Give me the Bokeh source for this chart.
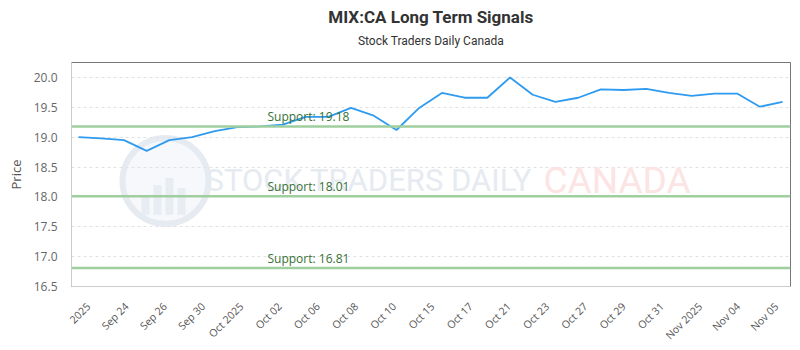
import math
import numpy as np
from bokeh.plotting import figure
from bokeh.models import (Range1d, FixedTicker, LinearAxis, Span, Label, Title, Grid,
                          PrintfTickFormatter, CustomJSTickFormatter)
from bokeh.embed import file_html
from bokeh.resources import INLINE

# ---------------- data ----------------
dates = ["Sep 22", "Sep 23", "Sep 24", "Sep 25", "Sep 26", "Sep 29", "Sep 30",
         "Oct 01", "Oct 02", "Oct 03", "Oct 06", "Oct 07", "Oct 08", "Oct 09", "Oct 10",
         "Oct 14", "Oct 15", "Oct 16", "Oct 17", "Oct 20", "Oct 21", "Oct 22", "Oct 23",
         "Oct 24", "Oct 27", "Oct 28", "Oct 29", "Oct 30", "Oct 31", "Nov 03", "Nov 04", "Nov 05"]
prices = [19.00, 18.98, 18.95, 18.77, 18.95, 19.00, 19.10, 19.17, 19.18, 19.21,
          19.34, 19.34, 19.49, 19.36, 19.12, 19.49, 19.74, 19.66, 19.66, 20.00,
          19.71, 19.59, 19.66, 19.80, 19.79, 19.81, 19.74, 19.69, 19.73, 19.73,
          19.51, 19.59]
support_levels = [19.18, 18.01, 16.81]
support_labels = ["Support: 19.18", "Support: 18.01", "Support: 16.81"]
x_tick_labels = ["2025", "Sep 24", "Sep 26", "Sep 30", "Oct 2025", "Oct 02", "Oct 06",
                 "Oct 08", "Oct 10", "Oct 15", "Oct 17", "Oct 21", "Oct 23", "Oct 27",
                 "Oct 29", "Oct 31", "Nov 2025", "Nov 04", "Nov 05"]
y_ticks = [16.5, 17.0, 17.5, 18.0, 18.5, 19.0, 19.5, 20.0]
title_text = "MIX:CA Long Term Signals"
subtitle_text = "Stock Traders Daily Canada"

# ---------------- layout constants ----------------
W, H = 800, 350
FL, FR, FT, FB = 71, 790, 62, 287          # frame edges in px
idx = list(range(len(prices)))
x0, x1 = -0.31, len(prices) - 1 + 0.35
y0, y1 = 16.5, 20.25

def fx(px):
    return x0 + (px - FL) / (FR - FL) * (x1 - x0)

def fy(py):
    return y1 - (py - FT) / (FB - FT) * (y1 - y0)

p = figure(width=W, height=H, x_range=Range1d(x0, x1), y_range=Range1d(y0, y1),
           output_backend="svg", toolbar_location=None,
           x_axis_type=None, y_axis_type=None,
           min_border_left=FL, min_border_right=W - FR,
           min_border_top=FT, min_border_bottom=H - FB)
p.background_fill_color = "white"
p.border_fill_color = "white"
p.outline_line_color = "#777777"
p.outline_line_width = 1

# titles
p.add_layout(Title(text=subtitle_text, align="center",
                   text_font="Roboto", text_font_size="12px",
                   text_font_style="normal", text_color="#333333", standoff=30), "above")
p.add_layout(Title(text=title_text, align="center",
                   text_font="Roboto", text_font_size="17px",
                   text_font_style="bold", text_color="#333333", standoff=-21), "above")

# axes: spacer + real
sp_y = LinearAxis(ticker=FixedTicker(ticks=[]), axis_line_color=None,
                  major_tick_out=10, major_tick_in=0, minor_tick_out=0, minor_tick_in=0,
                  major_label_standoff=0, major_tick_line_color=None)
p.add_layout(sp_y, "left")
yax = LinearAxis(ticker=FixedTicker(ticks=y_ticks), formatter=PrintfTickFormatter(format="%.1f"),
                 axis_label="Price", axis_label_text_font="Open Sans",
                 axis_label_text_font_size="13px", axis_label_text_font_style="normal",
                 axis_label_text_color="#555555", axis_label_standoff=6,
                 major_label_text_font="Open Sans", major_label_text_font_size="12px",
                 major_label_text_color="#666666", major_label_standoff=8,
                 axis_line_color="#cccccc", major_tick_line_color=None, minor_tick_line_color=None)
p.add_layout(yax, "left")

sp_x = LinearAxis(ticker=FixedTicker(ticks=[]), axis_line_color=None,
                  major_tick_out=9, major_tick_in=0, minor_tick_out=0, minor_tick_in=0,
                  major_label_standoff=0, major_tick_line_color=None)
p.add_layout(sp_x, "below")
t_first, t_last = fx(88), fx(776)
n_lab = len(x_tick_labels)
tick_pos = list(np.linspace(t_first, t_last, n_lab))
step = (t_last - t_first) / (n_lab - 1)
xax = LinearAxis(ticker=FixedTicker(ticks=tick_pos),
                 formatter=CustomJSTickFormatter(args=dict(labels=x_tick_labels, start=t_first, step=step),
                                                 code="const i = Math.round((tick - start) / step); return labels[i] || '';"),
                 major_label_orientation=math.pi / 4,
                 major_label_text_font="Open Sans", major_label_text_font_size="10.5px",
                 major_label_text_color="#555555", major_label_standoff=12,
                 axis_line_color="#cccccc", major_tick_line_color=None, minor_tick_line_color=None)
p.add_layout(xax, "below")

p.add_layout(Grid(dimension=1, ticker=FixedTicker(ticks=y_ticks), grid_line_color="#e2e2e2",
                  grid_line_dash="3 3", grid_line_width=1))

# watermark
cx, cy = fx(165), fy(181)
p.circle(x=[cx], y=[cy], radius=43, radius_units="screen", fill_color="#f7f8fb",
         fill_alpha=1, line_color="#e6ebf2", line_width=6, level="underlay")
bar_px = [145, 157, 169, 181]
bar_top = [195, 185, 178, 188]
for bx, bt in zip(bar_px, bar_top):
    p.quad(left=[fx(bx - 4)], right=[fx(bx + 4)], top=[fy(bt)], bottom=[fy(215)],
           fill_color="#e8ecf3", line_color=None, level="underlay")
p.add_layout(Label(x=fx(205), y=fy(181), text="STOCK TRADERS DAILY", text_font="Roboto",
                   text_font_size="31px", text_color="#e6eaf1", text_baseline="middle",
                   text_align="left", level="underlay"))
p.add_layout(Label(x=fx(543), y=fy(181), text="CANADA", text_font="Roboto",
                   text_font_size="37px", text_color="#fde4e4", text_baseline="middle",
                   text_align="left", level="underlay"))

# support lines
for lvl, lab in zip(support_levels, support_labels):
    p.add_layout(Span(location=lvl, dimension="width", line_color="#9fce9f", line_width=2.5))
    p.add_layout(Label(x=fx(267), y=lvl, y_offset=1, text=lab, text_font="Open Sans",
                       text_font_size="12px", text_color="#357035", text_baseline="bottom"))

# price line
p.line(idx, prices, line_color="#2f9bf0", line_width=1.8)

open("out.html", "w").write(file_html(p, INLINE))
